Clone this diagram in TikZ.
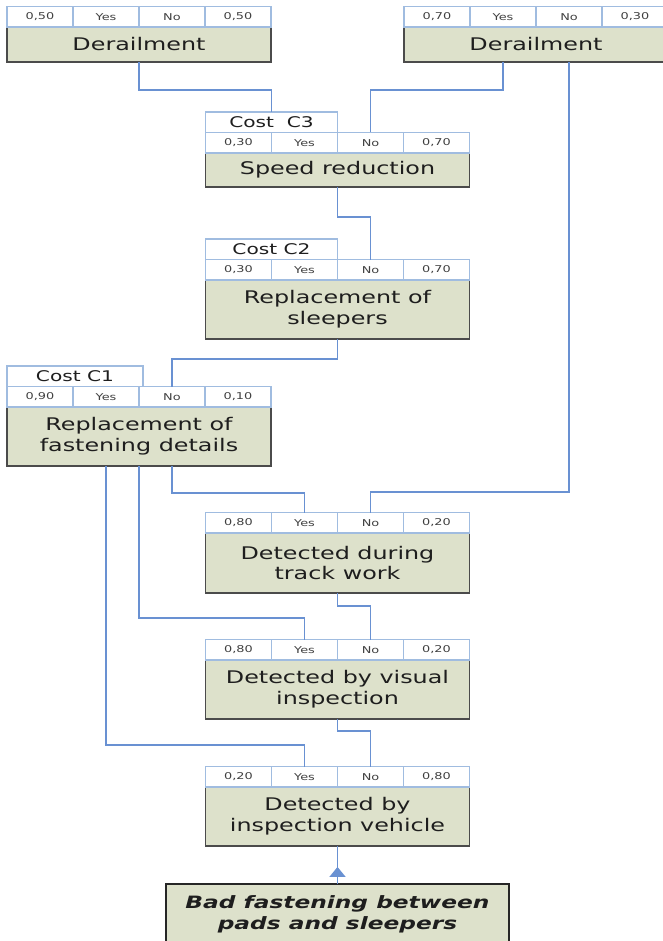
\documentclass[tikz,border=0pt]{standalone}
\usepackage{fontspec}
\usepackage{tikz}
\usetikzlibrary{positioning,arrows.meta,decorations.markings}
\newfontfamily\boxfont[FakeStretch=1.37]{DejaVu Sans}
\definecolor{boxfill}{RGB}{221,225,203}
\definecolor{boxline}{RGB}{75,75,75}
\definecolor{cellline}{RGB}{160,188,224}
\definecolor{linkblue}{RGB}{105,145,210}
\definecolor{textgrey}{RGB}{30,30,30}

% four probability cells on top of a decision box
\newcommand{\probrow}[3]{%
  \node[cell,above right=0pt and 0pt of #1.north west] (#1-p) {#2};
  \node[cell,right=0pt of #1-p] (#1-yes) {Yes};
  \node[cell,right=0pt of #1-yes] (#1-no) {No};
  \node[cell,right=0pt of #1-no] (#1-q) {#3};
}

\begin{document}
\begin{tikzpicture}[x=1pt,y=-1pt,
  decision/.style={rectangle,draw=boxline,line width=1.4pt,fill=boxfill,
    text=textgrey,align=center,minimum width=264pt,inner sep=0pt,outer sep=0pt,
    font=\boxfont\fontsize{17.4}{20.8}\selectfont},
  cell/.style={rectangle,draw=cellline,line width=1.2pt,fill=white,
    text=textgrey!85,minimum width=66pt,minimum height=20.5pt,inner sep=0pt,outer sep=0pt,
    font=\boxfont\fontsize{9.4}{11}\selectfont},
  cost/.style={rectangle,draw=cellline,line width=1.2pt,fill=white,
    text=textgrey,minimum width=132pt,minimum height=20.5pt,inner sep=0pt,outer sep=0pt,
    font=\boxfont\fontsize{14.7}{17}\selectfont},
  link/.style={draw=linkblue,line width=1.3pt},
  arrowmid/.style={postaction={decorate},decoration={markings,
    mark=at position 0.45 with {\arrow{Triangle[width=16pt,length=10pt]}}}}
]
\useasboundingbox (0,0) rectangle (662,941);

% decision boxes
\node[decision,minimum height=35pt] (derL) at (139,44.5) {Derailment};
\node[decision,minimum height=35pt] (derR) at (536,44.5) {Derailment};
\node[decision,minimum height=34pt] (speed) at (337.5,170) {Speed reduction};
\node[decision,minimum height=59pt] (sleep) at (337.5,309.5) {Replacement of\\sleepers};
\node[decision,minimum height=59pt] (fast) at (139,436.5) {Replacement of\\fastening details};
\node[decision,minimum height=60pt] (track) at (337.5,563) {Detected during\\track work};
\node[decision,minimum height=59pt] (visual) at (337.5,689.5) {Detected by visual\\inspection};
\node[decision,minimum height=59pt] (veh) at (337.5,816.5) {Detected by\\inspection vehicle};
\node[decision,minimum width=343pt,minimum height=60pt,draw=black!85,
  font=\boxfont\fontsize{17}{20.8}\selectfont\bfseries\itshape] (bad) at (337.5,914)
  {Bad fastening between\\pads and sleepers};

% probability rows
\probrow{derL}{0,50}{0,50}
\probrow{derR}{0,70}{0,30}
\probrow{speed}{0,30}{0,70}
\probrow{sleep}{0,30}{0,70}
\probrow{fast}{0,90}{0,10}
\probrow{track}{0,80}{0,20}
\probrow{visual}{0,80}{0,20}
\probrow{veh}{0,20}{0,80}

% costs
\node[cost,above right=0pt and 0pt of speed-p.north west] (c3) {Cost~~C3};
\node[cost,above right=0pt and 0pt of sleep-p.north west] (c2) {Cost C2};
\node[cost,minimum width=136pt,above right=0pt and 0pt of fast-p.north west] (c1) {Cost C1};

% connectors
\draw[link] (derL.south) -- ++(0,28) -| (c3.north);
\draw[link] (derR.south -| derR-yes) -- ++(0,28) -| (speed-no.north);
\draw[link] (derR.south -| derR-no) -- ++(0,430) -| (track-no.north);
\draw[link] (speed.south) -- ++(0,30) -| (sleep-no.north);
\draw[link] (sleep.south) -- ++(0,20) -| (fast-no.north);
\draw[link] (fast.south -| fast-no) -- ++(0,27) -| (track-yes.north);
\draw[link] (fast.south) -- ++(0,152) -| (visual-yes.north);
\draw[link] (fast.south -| fast-yes) -- ++(0,279) -| (veh-yes.north);
\draw[link] (track.south) -- ++(0,13) -| (visual-no.north);
\draw[link] (visual.south) -- ++(0,12) -| (veh-no.north);
\draw[link,arrowmid] (bad.north) -- (veh.south);
\end{tikzpicture}
\end{document}
